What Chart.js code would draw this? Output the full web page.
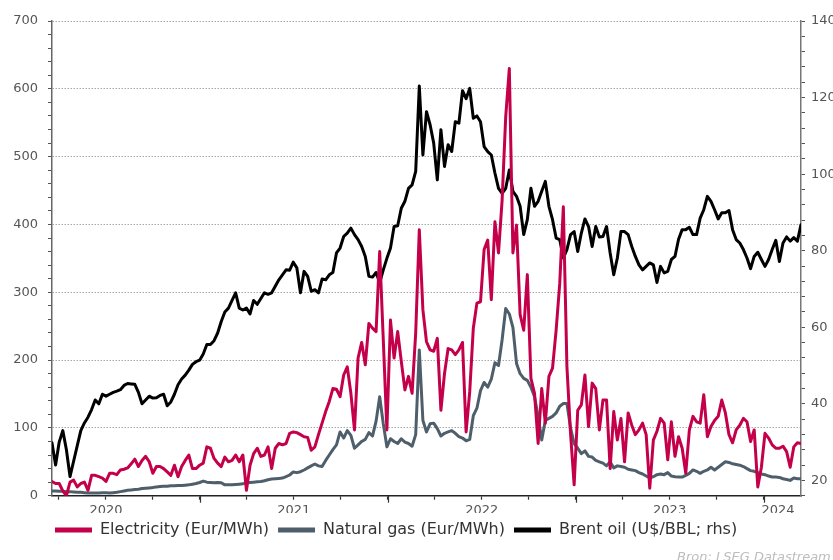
<!DOCTYPE html>
<html>
<head>
<meta charset="utf-8">
<script src="https://cdn.jsdelivr.net/npm/chart.js@4.4.1/dist/chart.umd.min.js"></script>
<style>
  html, body { margin: 0; padding: 0; background: #fff; }
  #wrap { width: 833px; height: 560px; }
</style>
</head>
<body>
<div id="wrap"><canvas id="chart" width="833" height="560"></canvas></div>
<script>
// weekly observations, first week is mid-March 2020
const startYear = 2020.213;
const weekInYears = 7 / 365.25;

// Eur/MWh, left axis
const electricity = [
  21, 18, 18, 7, 0, 20, 23, 13, 18, 20, 8, 30, 30, 28, 26, 21, 33, 33, 31, 38,
  39, 41, 47, 54, 43, 52, 58, 50, 33, 43, 43, 40, 35, 30, 45, 28, 43, 52, 60, 40,
  40, 45, 48, 72, 70, 55, 48, 43, 57, 50, 52, 60, 50, 60, 8, 45, 62, 70, 58, 60,
  72, 40, 70, 77, 75, 77, 92, 94, 93, 90, 87, 86, 67, 72, 90, 107, 124, 139, 158, 157,
  146, 178, 190, 151, 97, 203, 226, 193, 254, 247, 242, 360, 230, 97, 259, 203, 242, 198, 156, 176,
  151, 240, 392, 274, 227, 215, 213, 232, 126, 180, 217, 215, 208, 215, 226, 94, 153, 247, 284, 286,
  363, 377, 289, 404, 358, 436, 559, 630, 358, 399, 267, 244, 326, 173, 151, 77, 158, 107, 176,
  188, 244, 313, 426, 190, 92, 16, 126, 134, 178, 102, 166, 158, 97, 141, 141, 40, 124, 82, 114,
  50, 122, 104, 90, 97, 107, 90, 11, 82, 95, 114, 107, 53, 109, 58, 87, 70, 33, 97, 117,
  109, 107, 149, 87, 102, 111, 117, 141, 122, 90, 78, 97, 104, 114, 109, 80, 97, 13, 42, 92,
  85, 75, 70, 70, 73, 65, 42, 72, 78, 77
];

// Eur/MWh, left axis
const naturalGas = [
  7, 7, 6.5, 6.5, 6, 6, 5.5, 5, 5, 4.5, 4, 4, 4, 4, 4.5, 4.5, 4, 4.5, 5, 6,
  7, 8, 8.5, 9, 9.5, 10.5, 11, 11.5, 12, 13, 13.5, 14, 14, 14.5, 14.5, 15, 15, 15.5, 16, 17,
  18, 19.5, 21.5, 20, 19.5, 19, 19.5, 19, 16, 16, 16, 16.5, 17, 17.5, 19, 19.5, 20, 20.5, 21, 22,
  23.5, 24.5, 25, 25.5, 26, 28, 30.5, 35, 34,
  35.4, 37.9, 41, 44, 46.7, 44, 43, 52, 60, 68, 75, 94, 85, 96, 89, 70, 75, 80, 83, 93,
  88, 110, 146, 106, 72, 84, 80, 77, 84, 79, 77, 73, 90, 215, 111, 94, 106, 107, 99, 88,
  92, 94, 96, 92, 87, 85, 81, 83, 118, 129, 155, 167, 160, 172, 196, 192, 230, 276, 268, 248,
  195, 180, 173, 170, 160, 146, 117, 82,
  111, 114, 117, 122, 132, 136, 136, 100, 77, 70, 62, 66, 58, 57, 52, 50, 48, 44, 50, 41,
  44, 43, 42, 39, 38, 37, 34, 32, 29, 26, 28, 31, 32, 31, 34, 29, 28, 27.5, 27.5, 30,
  33, 38, 36, 33, 36, 38, 42, 38, 42, 46, 50, 49, 47, 46, 45, 43, 40, 37, 36, 34,
  32, 31, 29, 27.5, 27.5, 27, 25, 24, 22.6, 26, 25, 25
];

// U$/BBL, right axis
const brentOil = [
  29.8, 24, 30, 33, 28, 21, 25, 29, 33, 35, 36.5, 38.5, 41, 40, 42.5, 42, 42.5, 43, 43.3, 43.7,
  44.8, 45.3, 45.2, 45.1, 43, 40, 41, 42, 41.5, 41.6, 42.2, 42.5, 39.5, 40.5, 42.5, 45, 46.5, 47.5, 48.8, 50.3,
  51, 51.4, 53, 55.5, 55.5, 56.5, 58.5, 61.5, 64, 65, 67, 69, 65, 64.5, 65, 63.5, 67, 66, 67.5, 69,
  68.6,
  69, 70.7, 72.4, 73.7, 75, 74.9, 77, 75.5, 69, 74.6, 73.3, 69.4, 69.8, 69, 72.6, 72.4, 73.7, 74.3, 79.4, 80.7,
  83.7, 84.6, 85.9, 84.2, 82.9, 81.1, 78.5, 73.3, 73.1, 74.3, 71.6, 75, 78, 80.7, 86.3, 86.5, 91.1, 92.9, 96.3, 97.2,
  100.7, 123, 105, 116.3, 112.9, 108.1, 98.5, 111.6, 102, 107.7, 105.9, 113.7, 113.3, 121.8, 119.7, 122.4, 114.6, 115.2, 113.7, 107.2,
  105.9, 105, 100.3, 96.3, 95, 96.3, 101.1, 95.5, 94.2, 91.6, 84.2, 88.1, 96.3, 91.6, 92.9, 95.5, 98.1, 91.6,
  88.1, 83.3, 82.9, 78.1, 80.3, 84.2, 85, 79.8, 84.6, 88.3, 86.3, 81.1, 86.3, 83.6, 83.7, 86.3, 79.4, 73.7, 78.1, 85,
  85, 84.2, 81.1, 78.5, 76.3, 75, 75.9, 76.8, 76.3, 71.7, 75.9, 74.2, 74.6, 77.7, 78.5, 83, 85.5, 85.5, 86.1, 84.2,
  84.2, 88.5, 90.7, 94.2, 92.9, 90.7, 88.3, 89.9, 89.9, 90.5, 85.5, 82.9, 82, 80.3, 78.1, 75.3, 78.5, 79.6, 77.7, 75.9,
  77.7, 80.3, 82.7, 77.2, 82, 83.6, 82.5, 83.4, 82.5, 86.8
];

const leftLabels = [0, 100, 200, 300, 400, 500, 600, 700];
const rightLabels = [20, 40, 60, 80, 100, 120, 140];
const yearLabels = ['2020', '2021', '2022', '2023', '2024'];
const yearLabelAt = [2020.5, 2021.5, 2022.5, 2023.5, 2024.077];
const yearStarts = [2021, 2022, 2023, 2024];

const RED = '#c4004b';
const SLATE = '#4e5f6b';
const BLACK = '#000000';

Chart.defaults.font.family = "'DejaVu Sans', sans-serif";
Chart.defaults.font.size = 13;
Chart.defaults.color = '#555';

const weekly = (arr) => arr.map((v, i) => ({ x: startYear + i * weekInYears, y: v }));

function ticksFrom(lo, hi, step) {
  const out = [];
  for (let v = lo; v <= hi + 1e-9; v += step) out.push({ value: Math.round(v * 1000) / 1000 });
  return out;
}

const isLabelOnly = (v) => Math.abs(v - yearLabelAt[yearLabelAt.length - 1]) < 0.001;

// legend starts under the plot, not at the canvas edge
const legendShift = {
  id: 'legendShift',
  afterLayout(chart) {
    if (chart.legend) chart.legend.left = 46;
  }
};

// source line and the longer year ticks
const extras = {
  id: 'extras',
  afterDraw(chart) {
    const { ctx, chartArea, scales } = chart;
    ctx.save();
    ctx.strokeStyle = '#333';
    ctx.lineWidth = 1.2;
    yearStarts.forEach((yr) => {
      const px = Math.round(scales.x.getPixelForValue(yr)) + 0.5;
      ctx.beginPath();
      ctx.moveTo(px, chartArea.bottom);
      ctx.lineTo(px, chartArea.bottom + 7);
      ctx.stroke();
    });
    ctx.font = "italic 13px 'DejaVu Sans'";
    ctx.fillStyle = '#bdbdbd';
    ctx.textAlign = 'left';
    ctx.textBaseline = 'alphabetic';
    ctx.fillText('Bron: LSEG Datastream', 677, 561);
    ctx.restore();
  }
};

const ctx = document.getElementById('chart').getContext('2d');
const chart = new Chart(ctx, {
  type: 'line',
  data: {
    datasets: [
      {
        label: 'Electricity (Eur/MWh)',
        data: weekly(electricity),
        borderColor: RED,
        backgroundColor: RED,
        borderWidth: 3,
        yAxisID: 'y',
      },
      {
        label: 'Natural gas (Eur/MWh)',
        data: weekly(naturalGas),
        borderColor: SLATE,
        backgroundColor: SLATE,
        borderWidth: 3,
        yAxisID: 'y',
      },
      {
        label: 'Brent oil (U$/BBL; rhs)',
        data: weekly(brentOil),
        borderColor: BLACK,
        backgroundColor: BLACK,
        borderWidth: 3,
        yAxisID: 'y2',
      },
    ],
  },
  options: {
    responsive: false,
    animation: false,
    devicePixelRatio: 1,
    layout: { padding: { left: 0, right: 0, top: 21, bottom: 12 } },
    elements: {
      point: { radius: 0 },
      line: { tension: 0, borderJoinStyle: 'round', borderCapStyle: 'round' },
    },
    plugins: {
      tooltip: { enabled: false },
      legend: {
        position: 'bottom',
        align: 'start',
        labels: {
          boxWidth: 37,
          boxHeight: 5,
          padding: 9,
          color: '#333',
          font: { size: 16 },
          generateLabels: (c) =>
            Chart.defaults.plugins.legend.labels.generateLabels(c).map((l) => ({ ...l, fillStyle: l.strokeStyle, lineWidth: 0 })),
        },
      },
    },
    scales: {
      x: {
        type: 'linear',
        min: startYear,
        max: startYear + (brentOil.length - 1) * weekInYears,
        afterBuildTicks: (s) => {
          const t = ticksFrom(2020.25, 2024, 0.25);
          t.push({ value: yearLabelAt[yearLabelAt.length - 1] });
          s.ticks = t.sort((a, b) => a.value - b.value);
        },
        afterFit: (s) => { s.height = 17.3; },
        ticks: {
          autoSkip: false,
          maxRotation: 0,
          padding: 3,
          color: '#555',
          font: { size: 13 },
          callback: (v) => {
            const k = yearLabelAt.findIndex((p) => Math.abs(p - v) < 0.001);
            return k >= 0 ? yearLabels[k] : '';
          },
        },
        grid: {
          drawOnChartArea: false,
          tickLength: 4,
          tickWidth: 1.2,
          tickColor: (c) => (c.tick && isLabelOnly(c.tick.value) ? 'transparent' : '#333'),
        },
        border: { color: '#222', width: 1.5 },
      },
      y: {
        position: 'left',
        min: 0,
        max: 700,
        afterBuildTicks: (s) => { s.ticks = ticksFrom(0, 700, 20); },
        afterFit: (s) => { s.width = 52; },
        ticks: {
          autoSkip: false,
          padding: 10,
          color: '#555',
          callback: (v) => (leftLabels.includes(v) ? String(v) : ''),
        },
        grid: {
          color: (c) => (c.tick && c.tick.value > 0 && c.tick.value % 100 === 0 ? '#a8a8a8' : 'transparent'),
          lineWidth: 1,
          tickColor: '#555',
          tickLength: 4,
        },
        border: { color: '#666', width: 1.5, dash: [1.5, 1.5] },
      },
      y2: {
        position: 'right',
        min: 16,
        max: 140,
        afterBuildTicks: (s) => { s.ticks = ticksFrom(16, 140, 4); },
        afterFit: (s) => { s.width = 32; },
        ticks: {
          autoSkip: false,
          padding: 6,
          color: '#555',
          callback: (v) => (rightLabels.includes(v) ? String(v) : ''),
        },
        grid: { drawOnChartArea: false, tickColor: '#555', tickLength: 4 },
        border: { color: '#777', width: 1.5 },
      },
    },
  },
  plugins: [legendShift, extras],
});
</script>
</body>
</html>
